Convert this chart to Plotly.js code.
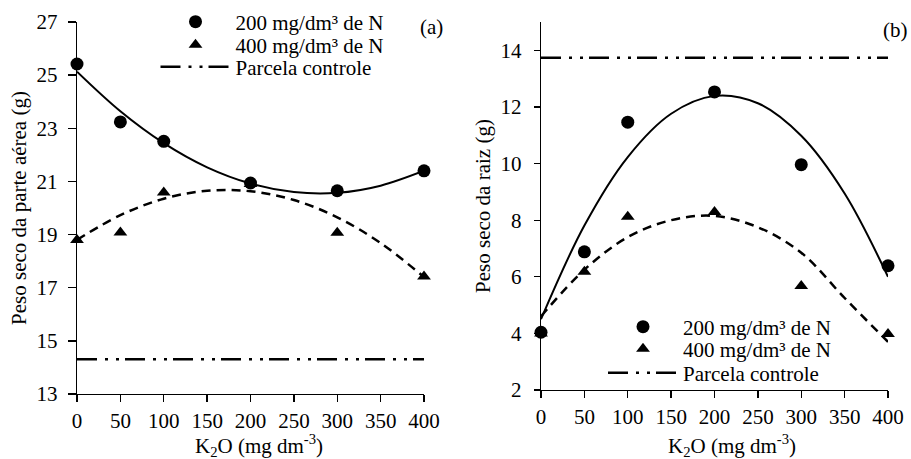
<!DOCTYPE html>
<html>
<head>
<meta charset="utf-8">
<script src="https://cdn.plot.ly/plotly-3.0.1.min.js"></script>
<style>html,body{margin:0;padding:0;background:#fff;}#chart{width:911px;height:459px;}</style>
</head>
<body>
<div id="chart"></div>
<script>
// ---- data ----
const doseK2O = [0, 50, 100, 200, 300, 400];
const aereaN200 = [25.42, 23.24, 22.51, 20.94, 20.65, 21.40];
const aereaN400 = [18.80, 19.08, 20.58, 20.90, 19.07, 17.42];
const aereaControle = 14.31;
const raizN200 = [4.04, 6.88, 11.46, 12.53, 9.96, 6.39];
const raizN400 = [4.00, 6.18, 8.12, 8.29, 5.67, 3.98];
const raizControle = 13.74;
// trend curves
const fitX = [0, 50, 100, 150, 200, 250, 300, 350, 400];
const aereaFitN200 = [25.13, 23.64, 22.44, 21.53, 20.92, 20.60, 20.57, 20.84, 21.40];
const aereaFitN400 = [18.80, 19.73, 20.35, 20.65, 20.63, 20.30, 19.65, 18.68, 17.40];
const raizFitN200 = [4.50, 7.81, 10.23, 11.76, 12.39, 12.13, 10.98, 8.94, 6.00];
const raizFitN400 = [4.60, 6.25, 7.40, 8.00, 8.15, 7.75, 6.85, 5.25, 3.70];
const controlX = [0, 400];
const xTicks = [0, 50, 100, 150, 200, 250, 300, 350, 400];
const names = ['200 mg/dm³ de N', '400 mg/dm³ de N', 'Parcela controle'];
const xTitle = 'K<sub>2</sub>O (mg dm<sup>-3</sup>)';

const FONT = 'Liberation Serif';
const FS = 21;
const dashDot = '20px,8px,3px,8px,3px,6px';

function panel(xa, ya, n200, n400, ctrl, f200, f400, legs) {
  return [
    {x: fitX, y: f200, xaxis: xa, yaxis: ya, mode: 'lines', line: {color: '#000', width: 2, shape: 'spline'}, showlegend: false, hoverinfo: 'skip', cliponaxis: false},
    {x: fitX, y: f400, xaxis: xa, yaxis: ya, mode: 'lines', line: {color: '#000', width: 2.5, shape: 'spline', dash: '9px,6px'}, showlegend: false, hoverinfo: 'skip', cliponaxis: false},
    {x: doseK2O, y: n200, xaxis: xa, yaxis: ya, mode: 'markers', name: names[0], marker: {symbol: 'circle', size: 13, color: '#000'}, legend: legs[0], cliponaxis: false},
    {x: doseK2O, y: n400, xaxis: xa, yaxis: ya, mode: 'markers', name: names[1], marker: {symbol: 'triangle-up', size: 12, color: '#000'}, legend: legs[1], cliponaxis: false},
    {x: controlX, y: controlX.map(() => ctrl), xaxis: xa, yaxis: ya, mode: 'lines', name: names[2], line: {color: '#000', width: 2.5, dash: dashDot}, legend: legs[2], cliponaxis: false}
  ];
}

const data = [].concat(
  panel('x', 'y', aereaN200, aereaN400, aereaControle, aereaFitN200, aereaFitN400, ['legend', 'legend2', 'legend3']),
  panel('x2', 'y2', raizN200, raizN400, raizControle, raizFitN200, raizFitN400, ['legend4', 'legend5', 'legend6'])
);

const axisCommon = {
  showline: true, linecolor: '#000', linewidth: 1.3, ticks: 'outside', tickcolor: '#000', tickwidth: 1.3,
  showgrid: false, zeroline: false, tickfont: {family: FONT, size: FS, color: '#000'}, fixedrange: true
};
const xCommon = Object.assign({}, axisCommon, {range: [0, 400], tickvals: xTicks, ticklen: 7, ticklabelstandoff: 0});

const legendCommon = {font: {family: FONT, size: 21, color: '#000'}, bgcolor: 'rgba(0,0,0,0)', borderwidth: 0,
  xanchor: 'left', yanchor: 'middle', itemwidth: 70, traceorder: 'normal', itemclick: false};
const rowsA = [1 - 22 / 459, 1 - 45 / 459, 1 - 67 / 459];
const rowsB = [1 - 327 / 459, 1 - 349 / 459, 1 - 373 / 459];
const annFont = {family: FONT, size: FS, color: '#000'};

const layout = {
  width: 911, height: 459,
  margin: {l: 0, r: 0, t: 0, b: 0},
  paper_bgcolor: '#fff', plot_bgcolor: 'rgba(0,0,0,0)',
  font: {family: FONT, size: FS, color: '#000'},
  showlegend: true,
  xaxis: Object.assign({}, xCommon, {domain: [77 / 911, 424 / 911], anchor: 'y'}),
  yaxis: Object.assign({}, axisCommon, {domain: [1 - 394 / 459, 1 - 22 / 459], anchor: 'x', range: [13, 27], tick0: 13, dtick: 2, ticklen: 8, ticklabelstandoff: 6,
    title: {text: 'Peso seco da parte aérea (g)', font: annFont, standoff: 4}}),
  xaxis2: Object.assign({}, xCommon, {domain: [541 / 911, 888 / 911], anchor: 'y2'}),
  yaxis2: Object.assign({}, axisCommon, {domain: [1 - 390 / 459, 1 - 22 / 459], anchor: 'x2', range: [2, 15], tick0: 2, dtick: 2, ticklen: 6, ticklabelstandoff: 8,
    title: {text: 'Peso seco da raiz (g)', font: annFont, standoff: 4}}),
  legend: Object.assign({}, legendCommon, {x: 155.5 / 911, y: rowsA[0]}),
  legend2: Object.assign({}, legendCommon, {x: 155.5 / 911, y: rowsA[1]}),
  legend3: Object.assign({}, legendCommon, {x: 155.5 / 911, y: rowsA[2]}),
  legend4: Object.assign({}, legendCommon, {x: 603 / 911, y: rowsB[0]}),
  legend5: Object.assign({}, legendCommon, {x: 603 / 911, y: rowsB[1]}),
  legend6: Object.assign({}, legendCommon, {x: 603 / 911, y: rowsB[2]}),
  annotations: [
    {text: '(a)', xref: 'paper', yref: 'paper', x: 431 / 911, y: 1 - 27 / 459, xanchor: 'center', yanchor: 'middle', showarrow: false, font: annFont},
    {text: '(b)', xref: 'paper', yref: 'paper', x: 895 / 911, y: 1 - 30 / 459, xanchor: 'center', yanchor: 'middle', showarrow: false, font: annFont},
    {text: xTitle, xref: 'paper', yref: 'paper', x: 259 / 911, y: 1 - 445 / 459, xanchor: 'center', yanchor: 'middle', showarrow: false, font: annFont},
    {text: xTitle, xref: 'paper', yref: 'paper', x: 732 / 911, y: 1 - 445 / 459, xanchor: 'center', yanchor: 'middle', showarrow: false, font: annFont}
  ]
};

Plotly.newPlot('chart', data, layout, {displayModeBar: false, staticPlot: true});
</script>
</body>
</html>
